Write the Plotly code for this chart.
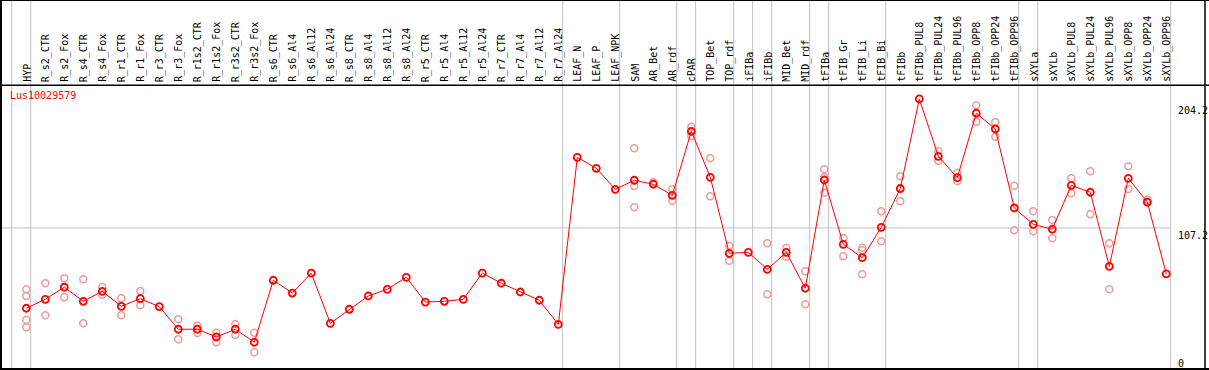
import plotly.graph_objects as go

categories = [
    "HYP", "R_s2_CTR", "R_s2_Fox", "R_s4_CTR", "R_s4_Fox", "R_r1_CTR", "R_r1_Fox",
    "R_r3_CTR", "R_r3_Fox", "R_r1s2_CTR", "R_r1s2_Fox", "R_r3s2_CTR", "R_r3s2_Fox",
    "R_s6_CTR", "R_s6_Al4", "R_s6_Al12", "R_s6_Al24", "R_s8_CTR", "R_s8_Al4", "R_s8_Al12",
    "R_s8_Al24", "R_r5_CTR", "R_r5_Al4", "R_r5_Al12", "R_r5_Al24", "R_r7_CTR", "R_r7_Al4",
    "R_r7_Al12", "R_r7_Al24", "LEAF_N", "LEAF_P", "LEAF_NPK", "SAM", "AR_Bet", "AR_rdf",
    "cPAR", "TOP_Bet", "TOP_rdf", "iFIBa", "iFIBb", "MID_Bet", "MID_rdf", "tFIBa",
    "tFIB_Gr", "tFIB_Li", "tFIB_Bi", "tFIBb", "tFIBb_PUL8", "tFIBb_PUL24", "tFIBb_PUL96",
    "tFIBb_OPP8", "tFIBb_OPP24", "tFIBb_OPP96", "sXYLa", "sXYLb", "sXYLb_PUL8",
    "sXYLb_PUL24", "sXYLb_PUL96", "sXYLb_OPP8", "sXYLb_OPP24", "sXYLb_OPP96",
]

mean_values = [
    44.9, 51.8, 61.2, 50.3, 58.0, 46.4, 52.3, 46.1, 28.6, 28.6, 22.6, 28.6, 18.5,
    66.6, 56.7, 72.2, 33.2, 44.1, 54.4, 59.6, 68.9, 49.7, 50.3, 51.8, 72.2, 64.3, 57.5,
    51.1, 32.4, 162.0, 153.5, 137.2, 144.2, 141.1, 132.5, 182.2, 146.5, 87.5, 88.3,
    75.1, 88.3, 60.4, 144.4, 94.5, 84.1, 107.7, 137.8, 207.3, 162.8, 146.2, 196.2,
    184.0, 122.7, 110.0, 106.2, 140.3, 134.9, 77.4, 145.7, 127.3, 71.5,
]

replicates = [
    [59.6, 54.4, 35.8, 30.1], [64.3, 39.4], [68.1, 53.4], [67.4, 33.2], [61.4, 55.4],
    [52.6, 39.4], [58.3, 47.2], [], [36.3, 20.8], [31.4, 25.7], [25.9, 18.5],
    [32.7, 24.1], [25.9, 10.7],
    [], [], [], [], [], [], [], [], [], [], [], [], [], [], [], [],
    [], [], [], [169.0, 139.8, 123.2], [142.6], [137.2, 128.4], [185.8, 178.6],
    [161.3, 131.8], [93.2, 81.8], [], [95.3, 55.7], [91.6, 84.9], [73.6, 48.0],
    [152.7, 146.5, 134.6], [99.4, 85.2], [91.9, 89.9, 71.2], [120.1, 96.8],
    [147.3, 127.9], [], [166.9, 159.4], [150.1, 143.6], [202.4, 189.7], [189.2, 178.0],
    [140.0, 105.4], [120.1, 104.6], [113.4, 99.2], [145.7, 134.1], [151.2, 117.8],
    [95.3, 59.6], [155.0, 137.4], [129.1, 127.3], [],
]

gene_label = "Lus10029579"
y_tick_values = [0, 107.2, 204.2]
y_tick_labels = ["0", "107.2", "204.2"]
separators_after = ["HYP", "R_r7_Al24", "LEAF_NPK", "AR_rdf", "cPAR", "TOP_rdf", "iFIBa",
                    "iFIBb", "MID_rdf", "tFIBa", "tFIB_Bi", "tFIBb_OPP96", "sXYLa",
                    "sXYLb_OPP96"]

# ---- geometry (pixels) ----
W, H = 1209, 370
L, R, T, B = 1, 1205, 85, 369
x0_px, step_px = 26.3, 19.0      # first category centre, spacing
y0_px, scale_px = 366.1, 1.2887  # pixel of value 0, pixels per unit

def xpaper(px):
    return (px - L) / (R - L)

def ypaper(py):
    return (B - py) / (B - T)

x_range = [(L - x0_px) / step_px, (R - x0_px) / step_px]
y_range = [(y0_px - B) / scale_px, (y0_px - T) / scale_px]

idx = list(range(len(categories)))
rep_x, rep_y = [], []
for i, reps in enumerate(replicates):
    for v in reps:
        rep_x.append(i)
        rep_y.append(v)

FONT = "DejaVu Sans Mono"
RED = "#FF0000"
PINK = "#EE9A9A"
GRID = "#C0C0C0"

fig = go.Figure()
fig.add_trace(go.Scatter(
    x=rep_x, y=rep_y, mode="markers",
    marker=dict(symbol="circle-open", size=7, color=PINK, line=dict(width=1.5, color=PINK)),
    hoverinfo="skip", showlegend=False,
))
fig.add_trace(go.Scatter(
    x=idx, y=mean_values, mode="lines+markers",
    line=dict(color=RED, width=1),
    marker=dict(symbol="circle-open", size=7, color=RED, line=dict(width=1.8, color=RED)),
    showlegend=False,
))

shapes = []
sep_positions = [-1] + [categories.index(n) for n in separators_after]
for p in sep_positions:
    shapes.append(dict(type="line", xref="x", yref="paper", x0=p + 0.23, x1=p + 0.23,
                       y0=0, y1=ypaper(0), line=dict(color=GRID, width=1), layer="below"))
last_sep = categories.index("sXYLb_OPP96") + 0.23
shapes.append(dict(type="line", xref="x", yref="y", x0=x_range[0], x1=last_sep,
                   y0=y_tick_values[1], y1=y_tick_values[1],
                   line=dict(color=GRID, width=1), layer="below"))
# frame
shapes.append(dict(type="line", xref="paper", yref="paper", x0=xpaper(0), x1=xpaper(W),
                   y0=ypaper(0.5), y1=ypaper(0.5), line=dict(color="black", width=1.2)))
shapes.append(dict(type="line", xref="paper", yref="paper", x0=xpaper(0), x1=xpaper(W),
                   y0=ypaper(85.3), y1=ypaper(85.3), line=dict(color="black", width=1.5)))
shapes.append(dict(type="line", xref="paper", yref="paper", x0=xpaper(0), x1=xpaper(W),
                   y0=ypaper(369), y1=ypaper(369), line=dict(color="black", width=2)))
shapes.append(dict(type="line", xref="paper", yref="paper", x0=xpaper(1), x1=xpaper(1),
                   y0=ypaper(0), y1=ypaper(370), line=dict(color="black", width=2)))
shapes.append(dict(type="line", xref="paper", yref="paper", x0=xpaper(1205), x1=xpaper(1205),
                   y0=ypaper(0), y1=ypaper(370), line=dict(color="black", width=1.5)))

annotations = [dict(text=gene_label, xref="paper", yref="paper", x=xpaper(8), y=ypaper(96),
                    xanchor="left", yanchor="middle", showarrow=False,
                    font=dict(family=FONT, size=10, color=RED))]
for i, name in enumerate(categories):
    annotations.append(dict(text=name, xref="x", yref="paper", x=i + 0.03, y=ypaper(83),
                            xanchor="center", yanchor="bottom", textangle=-90,
                            showarrow=False, borderpad=0,
                            font=dict(family=FONT, size=10, color="black")))
ylab_x = (1176 - x0_px) / step_px
for v, t in zip(y_tick_values, y_tick_labels):
    if v == 0:
        annotations.append(dict(text=t, xref="x", yref="paper", x=ylab_x, y=ypaper(363),
                                xanchor="left", yanchor="middle", showarrow=False,
                                font=dict(family=FONT, size=10, color="black")))
    else:
        annotations.append(dict(text=t, xref="x", yref="y", x=ylab_x, y=v,
                                xanchor="left", yanchor="top", showarrow=False,
                                font=dict(family=FONT, size=10, color="black")))

fig.update_layout(
    width=W, height=H,
    margin=dict(l=L, r=W - R, t=T, b=H - B, pad=0),
    paper_bgcolor="white", plot_bgcolor="white",
    shapes=shapes, annotations=annotations,
    xaxis=dict(range=x_range, showticklabels=False, ticks="", showgrid=False,
               zeroline=False, showline=False, automargin=False),
    yaxis=dict(range=y_range, showticklabels=False, showgrid=False, zeroline=False,
               showline=False, ticks=""),
    hovermode="closest",
)

fig.write_html("out.html", config={"displayModeBar": False},
               post_script="document.body.style.margin='0';")
